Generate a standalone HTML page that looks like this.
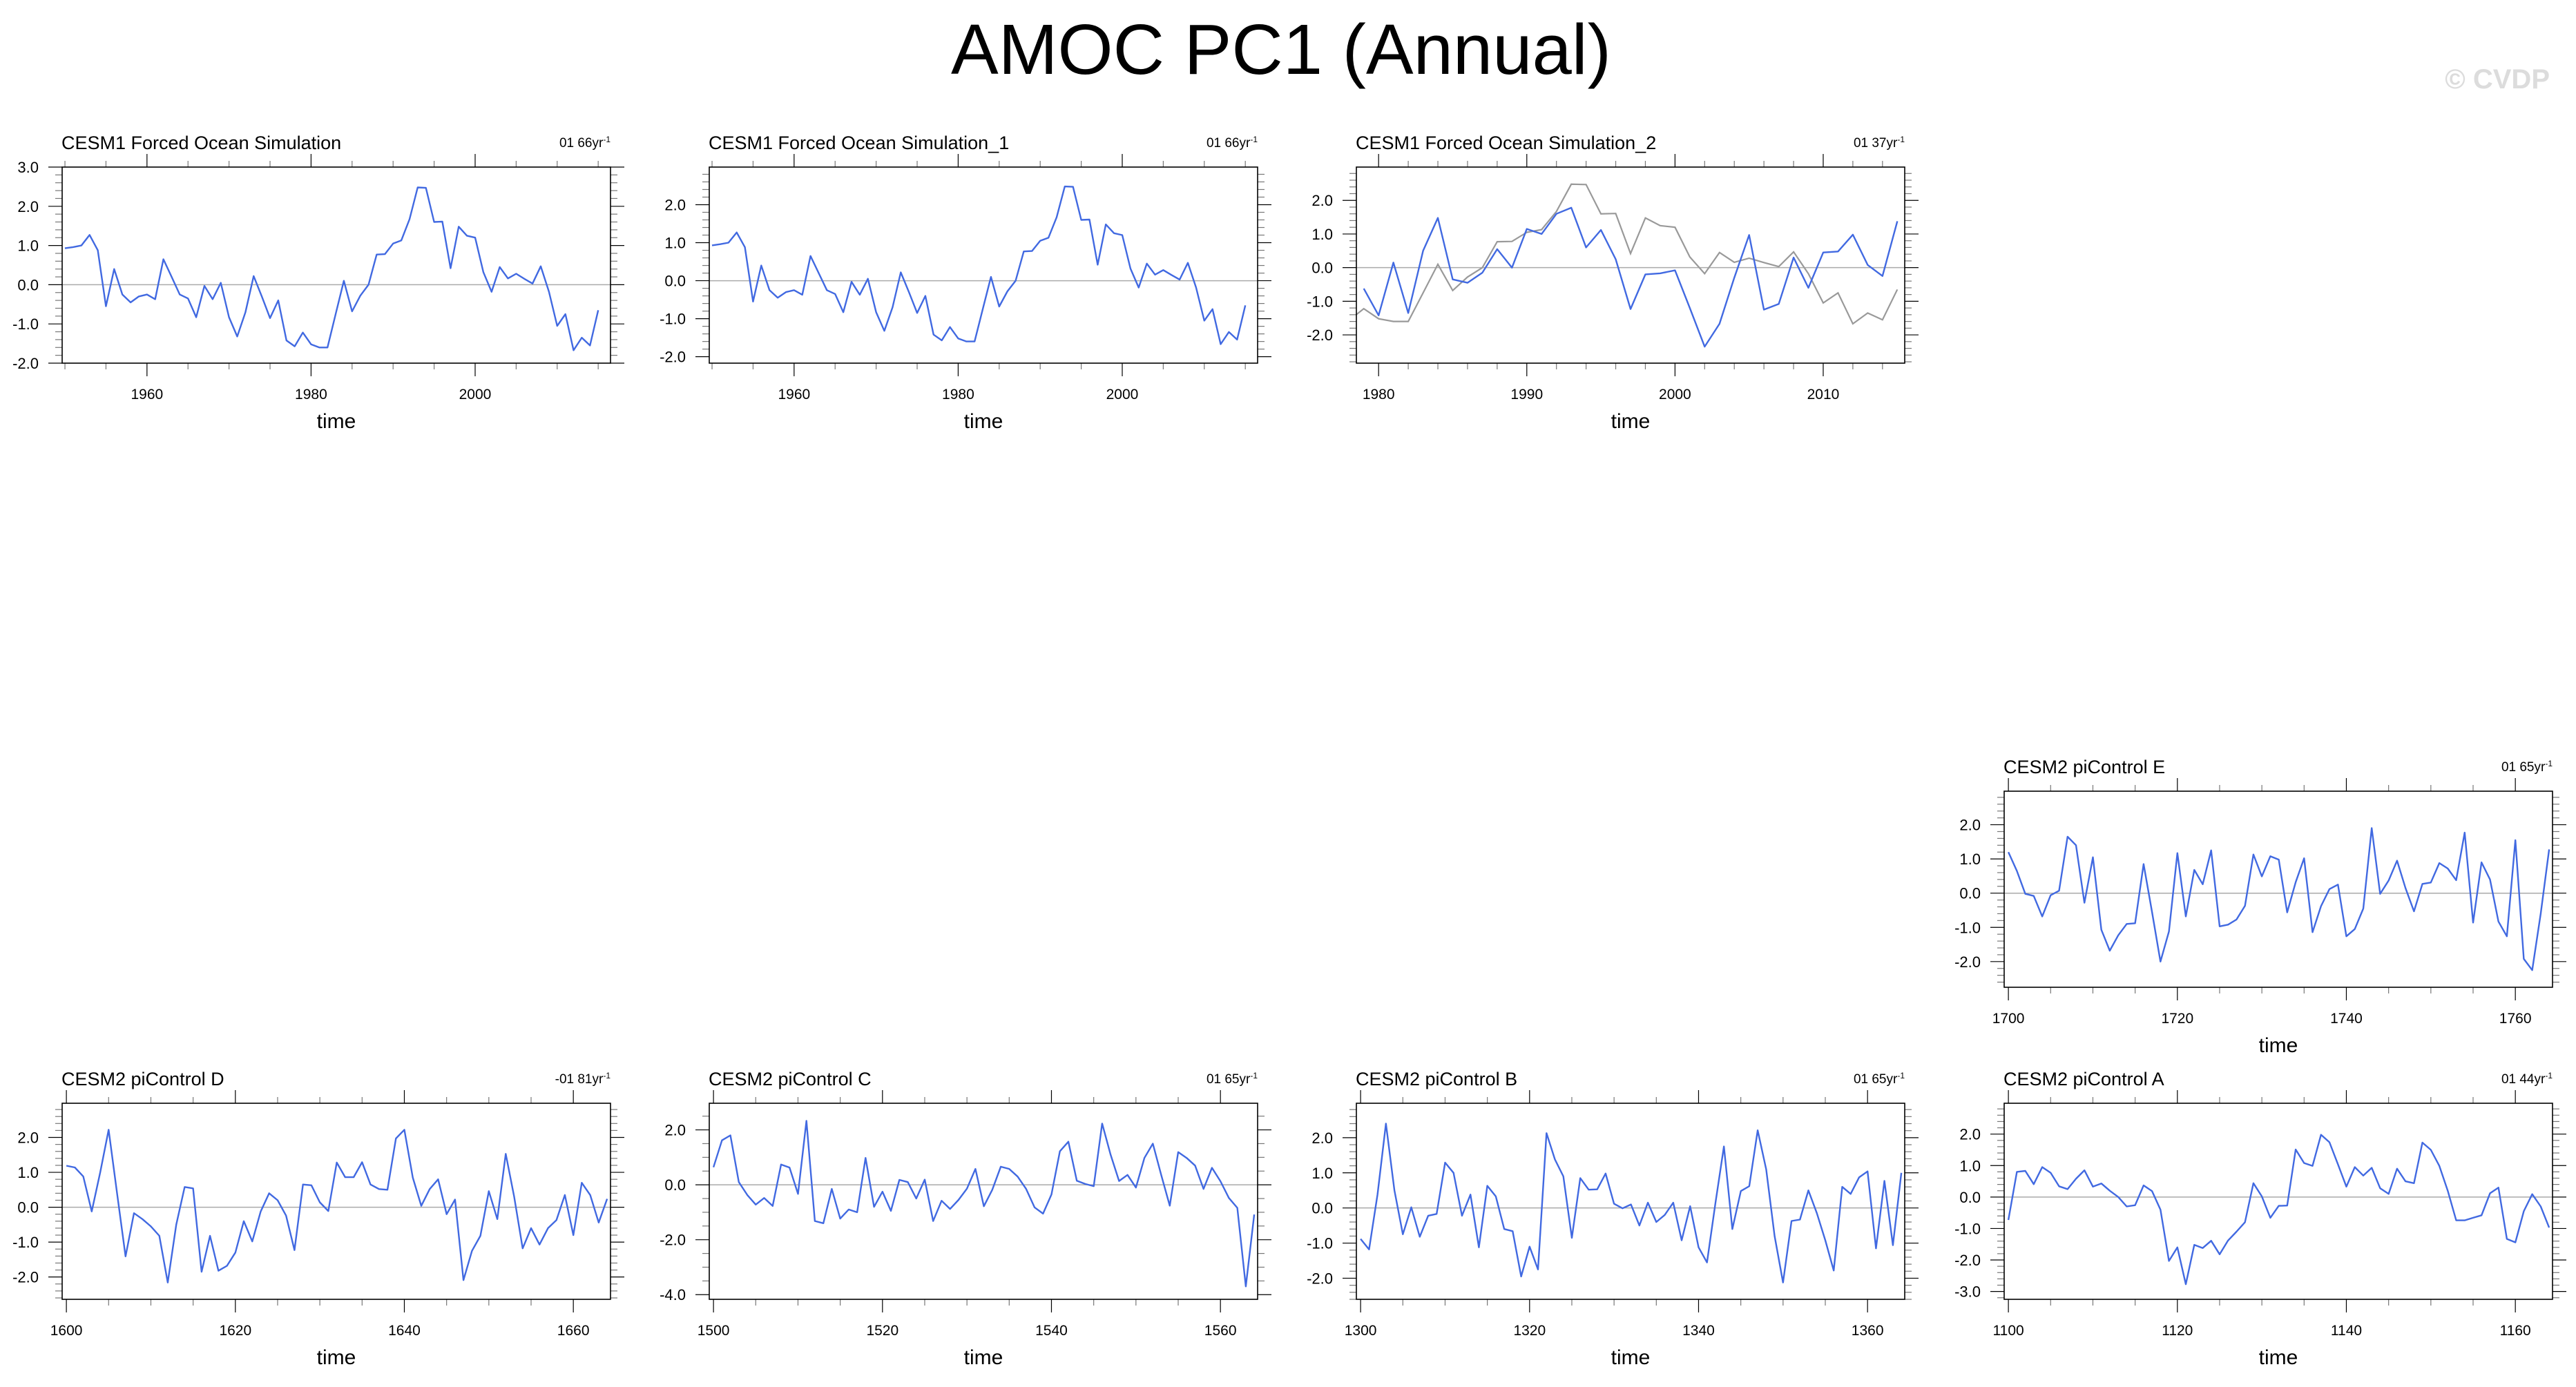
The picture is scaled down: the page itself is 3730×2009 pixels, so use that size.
<!DOCTYPE html>
<html><head><meta charset="utf-8">
<style>
html,body{margin:0;padding:0;background:#fff;}
svg{display:block;font-family:"Liberation Sans",Arial,sans-serif;}
</style></head>
<body>
<svg id="chart" width="3730" height="2009" viewBox="0 0 3730 2009" xmlns="http://www.w3.org/2000/svg">
<rect x="0" y="0" width="3730" height="2009" fill="#fff"/>
<text x="1855" y="107" font-size="103" text-anchor="middle" fill="#000">AMOC PC1 (Annual)</text>
<text x="3692" y="128" font-size="40" font-weight="bold" text-anchor="end" fill="#dcdcdc">© CVDP</text>
<g id="panels"></g>
</svg>
<script>
// ---- data ----
const forcedYears0 = 1950;
const forcedValues = [0.93,0.96,1.0,1.27,0.88,-0.55,0.4,-0.25,-0.45,-0.3,-0.25,-0.37,0.65,0.2,-0.25,-0.35,-0.83,-0.03,-0.37,0.05,-0.83,-1.32,-0.7,0.22,-0.3,-0.85,-0.4,-1.42,-1.57,-1.22,-1.52,-1.6,-1.6,-0.75,0.1,-0.68,-0.28,0.0,0.77,0.78,1.05,1.13,1.67,2.48,2.47,1.6,1.61,0.42,1.48,1.25,1.2,0.32,-0.18,0.45,0.16,0.28,0.15,0.03,0.47,-0.18,-1.05,-0.75,-1.67,-1.35,-1.55,-0.65];
const forced1Values = [0.93,0.96,1.0,1.27,0.88,-0.55,0.4,-0.25,-0.45,-0.3,-0.25,-0.37,0.65,0.2,-0.25,-0.35,-0.83,-0.03,-0.37,0.05,-0.83,-1.32,-0.7,0.22,-0.3,-0.85,-0.4,-1.42,-1.57,-1.22,-1.52,-1.6,-1.6,-0.75,0.1,-0.68,-0.28,0.0,0.77,0.78,1.05,1.13,1.67,2.48,2.47,1.6,1.61,0.42,1.48,1.25,1.2,0.32,-0.18,0.45,0.16,0.28,0.15,0.03,0.47,-0.18,-1.05,-0.75,-1.67,-1.35,-1.55,-0.65];
const forced2Years0 = 1979;
const forced2Values = [-0.62,-1.42,0.15,-1.35,0.5,1.48,-0.35,-0.45,-0.15,0.55,0.0,1.15,1.0,1.6,1.78,0.6,1.12,0.25,-1.23,-0.2,-0.17,-0.08,-1.2,-2.35,-1.67,-0.3,0.97,-1.25,-1.08,0.3,-0.6,0.45,0.48,0.98,0.08,-0.25,1.38];
const ctrlEValues = [1.2,0.65,-0.02,-0.08,-0.68,-0.06,0.07,1.65,1.4,-0.28,1.05,-1.07,-1.68,-1.23,-0.9,-0.88,0.85,-0.55,-2.0,-1.12,1.17,-0.68,0.68,0.26,1.25,-0.97,-0.92,-0.77,-0.37,1.13,0.49,1.08,0.98,-0.56,0.32,1.02,-1.14,-0.38,0.12,0.25,-1.26,-1.05,-0.45,1.9,-0.02,0.37,0.95,0.15,-0.53,0.27,0.31,0.88,0.72,0.38,1.77,-0.86,0.9,0.4,-0.83,-1.26,1.55,-1.92,-2.25,-0.6,1.28];
const ctrlDValues = [1.19,1.14,0.88,-0.12,1.0,2.22,0.4,-1.41,-0.17,-0.34,-0.55,-0.82,-2.16,-0.5,0.58,0.54,-1.85,-0.82,-1.82,-1.68,-1.3,-0.4,-0.98,-0.12,0.4,0.2,-0.24,-1.23,0.65,0.63,0.14,-0.11,1.28,0.86,0.86,1.29,0.65,0.52,0.5,1.97,2.22,0.85,0.04,0.52,0.8,-0.2,0.22,-2.09,-1.25,-0.82,0.46,-0.34,1.53,0.3,-1.18,-0.6,-1.07,-0.6,-0.37,0.35,-0.8,0.7,0.35,-0.44,0.24];
const ctrlCValues = [0.64,1.62,1.8,0.1,-0.37,-0.72,-0.48,-0.77,0.74,0.63,-0.33,2.33,-1.32,-1.4,-0.15,-1.23,-0.9,-1.0,0.98,-0.8,-0.25,-0.95,0.18,0.1,-0.5,0.19,-1.32,-0.58,-0.88,-0.55,-0.14,0.58,-0.78,-0.18,0.66,0.58,0.3,-0.15,-0.82,-1.05,-0.35,1.22,1.57,0.15,0.03,-0.05,2.23,1.1,0.14,0.36,-0.1,0.98,1.5,0.35,-0.76,1.19,0.98,0.7,-0.15,0.62,0.13,-0.48,-0.84,-3.7,-1.08];
const ctrlBValues = [-0.88,-1.18,0.38,2.4,0.5,-0.75,0.02,-0.82,-0.22,-0.17,1.29,1.0,-0.22,0.38,-1.12,0.63,0.33,-0.6,-0.66,-1.95,-1.1,-1.75,2.13,1.38,0.9,-0.85,0.85,0.52,0.53,0.98,0.12,-0.01,0.1,-0.5,0.15,-0.4,-0.2,0.15,-0.92,0.05,-1.12,-1.55,0.15,1.75,-0.6,0.48,0.62,2.21,1.1,-0.8,-2.12,-0.37,-0.33,0.5,-0.15,-0.92,-1.78,0.6,0.4,0.87,1.04,-1.15,0.77,-1.06,1.0];
const ctrlAValues = [-0.73,0.8,0.83,0.41,0.95,0.77,0.34,0.25,0.58,0.85,0.33,0.43,0.2,0.0,-0.3,-0.26,0.37,0.19,-0.4,-2.03,-1.6,-2.77,-1.52,-1.62,-1.39,-1.82,-1.38,-1.1,-0.8,0.44,0.02,-0.66,-0.28,-0.27,1.51,1.08,0.99,1.98,1.74,1.04,0.33,0.95,0.68,0.93,0.28,0.1,0.9,0.5,0.44,1.73,1.5,0.99,0.2,-0.74,-0.74,-0.66,-0.58,0.12,0.3,-1.33,-1.44,-0.45,0.09,-0.3,-0.97];
const ytick5 = [3.0,2.0,1.0,0.0,-1.0,-2.0];
const ytick4 = [2.0,1.0,0.0,-1.0,-2.0];
const ytickC = [2.0,0.0,-2.0,-4.0];
const ytickA = [2.0,1.0,0.0,-1.0,-2.0,-3.0];
const xtickForced = [1960,1980,2000];
const xtickForced2 = [1980,1990,2000,2010];
const xtickE = [1700,1720,1740,1760];
const xtickD = [1600,1620,1640,1660];
const xtickC = [1500,1520,1540,1560];
const xtickB = [1300,1320,1340,1360];
const xtickA = [1100,1120,1140,1160];

const NS = "http://www.w3.org/2000/svg";
const root = document.getElementById('panels');
function mk(tag, attrs, parent){ const e=document.createElementNS(NS,tag); for(const k in attrs) e.setAttribute(k,attrs[k]); (parent||root).appendChild(e); return e; }

const W = 794, H = 284;
const cols = [90, 1027, 1964, 2902];
const panels = [
 {id:'forced', title:'CESM1 Forced Ocean Simulation', rate:'01 66yr', col:0, top:242, x0:1949.66, x1:2016.5, y0:-2.0, y1:3.0, start:forcedYears0, vals:forcedValues, xt:xtickForced, xmin:5, yt:ytick5, ymin:0.2},
 {id:'forced-1', title:'CESM1 Forced Ocean Simulation_1', rate:'01 66yr', col:1, top:242, x0:1949.66, x1:2016.5, y0:-2.17, y1:2.99, start:forcedYears0, vals:forced1Values, xt:xtickForced, xmin:5, yt:ytick4, ymin:0.2},
 {id:'forced-2', title:'CESM1 Forced Ocean Simulation_2', rate:'01 37yr', col:2, top:242, x0:1978.5, x1:2015.5, y0:-2.84, y1:2.99, start:forced2Years0, vals:forced2Values, ref:{start:forcedYears0, vals:forcedValues}, xt:xtickForced2, xmin:2, yt:ytick4, ymin:0.2},
 {id:'picontrol-e', title:'CESM2 piControl E', rate:'01 65yr', col:3, top:1146, x0:1699.5, x1:1764.4, y0:-2.75, y1:2.98, start:1700, vals:ctrlEValues, xt:xtickE, xmin:5, yt:ytick4, ymin:0.2},
 {id:'picontrol-d', title:'CESM2 piControl D', rate:'-01 81yr', col:0, top:1598, x0:1599.5, x1:1664.4, y0:-2.64, y1:2.98, start:1600, vals:ctrlDValues, xt:xtickD, xmin:5, yt:ytick4, ymin:0.2},
 {id:'picontrol-c', title:'CESM2 piControl C', rate:'01 65yr', col:1, top:1598, x0:1499.5, x1:1564.4, y0:-4.17, y1:2.97, start:1500, vals:ctrlCValues, xt:xtickC, xmin:5, yt:ytickC, ymin:0.5},
 {id:'picontrol-b', title:'CESM2 piControl B', rate:'01 65yr', col:2, top:1598, x0:1299.5, x1:1364.4, y0:-2.6, y1:2.98, start:1300, vals:ctrlBValues, xt:xtickB, xmin:5, yt:ytick4, ymin:0.2},
 {id:'picontrol-a', title:'CESM2 piControl A', rate:'01 44yr', col:3, top:1598, x0:1099.5, x1:1164.4, y0:-3.25, y1:2.98, start:1100, vals:ctrlAValues, xt:xtickA, xmin:5, yt:ytickA, ymin:0.2}
];

panels.forEach(p=>{
  const L = cols[p.col], T = p.top, R = L+W, B = T+H;
  const sx = v => L + (v-p.x0)/(p.x1-p.x0)*W;
  const sy = v => B - (v-p.y0)/(p.y1-p.y0)*H;
  const g = mk('g',{});
  
  
  const t = mk('text',{x:L-1,y:T-26,'font-size':27,fill:'#000'},g);
  t.textContent = p.title;
  
  
  const r = mk('text',{x:R,y:T-29,'font-size':19,'text-anchor':'end',fill:'#000'},g);
  r.textContent = p.rate;
  const sup = mk('tspan',{dy:-7,'font-size':12},r);
  sup.textContent = '-1';
  
  
  // x ticks
  const xs = Math.ceil(p.x0/p.xmin)*p.xmin;
  for(let v=xs; v<=p.x1; v+=p.xmin){
    const major = p.xt.indexOf(v)>=0;
    const len = major?19:9, x=sx(v);
    mk('line',{x1:x,y1:B,x2:x,y2:B+len,stroke:major?'#000':'#777','stroke-width':1.2},g);
    mk('line',{x1:x,y1:T,x2:x,y2:T-len,stroke:major?'#000':'#777','stroke-width':1.2},g);
  }
  p.xt.forEach(v=>{
    const lb = mk('text',{x:sx(v),y:B+52,'font-size':21,'text-anchor':'middle',fill:'#000'},g);
    lb.textContent = v;
    
    
  });
  // y ticks
  const n0 = Math.ceil(p.y0/p.ymin-1e-6), n1 = Math.floor(p.y1/p.ymin+1e-6);
  for(let n=n0;n<=n1;n++){
    const v = n*p.ymin;
    const major = p.yt.some(q=>Math.abs(q-v)<1e-6);
    const len = major?20:10, y=sy(v);
    mk('line',{x1:L,y1:y,x2:L-len,y2:y,stroke:major?'#000':'#777','stroke-width':1.2},g);
    mk('line',{x1:R,y1:y,x2:R+len,y2:y,stroke:major?'#000':'#777','stroke-width':1.2},g);
  }
  p.yt.forEach(v=>{
    const lb = mk('text',{x:L-34,y:sy(v)+8,'font-size':22,'text-anchor':'end',fill:'#000'},g);
    lb.textContent = v.toFixed(1);
    
    
  });
  // zero line
  const z = mk('line',{x1:L,y1:sy(0),x2:R,y2:sy(0),stroke:'#aaa','stroke-width':1.5},g);
  
  
  const clipId = 'clip-'+p.id;
  const cp = mk('clipPath',{id:clipId},g);
  mk('rect',{x:L,y:T,width:W,height:H},cp);
  if(p.ref){
    const pts = p.ref.vals.map((v,i)=>sx(p.ref.start+i).toFixed(1)+','+sy(v).toFixed(1)).join(' ');
    const pl = mk('polyline',{points:pts,fill:'none',stroke:'#999','stroke-width':2.2,'clip-path':'url(#'+clipId+')'},g);
    
    
  }
  const pts = p.vals.map((v,i)=>sx(p.start+i).toFixed(1)+','+sy(v).toFixed(1)).join(' ');
  const pl = mk('polyline',{points:pts,fill:'none',stroke:'#4169e1','stroke-width':2.4,'stroke-linejoin':'round','clip-path':'url(#'+clipId+')'},g);
  
  
  const box = mk('rect',{x:L,y:T,width:W,height:H,fill:'none',stroke:'#000','stroke-width':1.6},g);
  
  
  const xl = mk('text',{x:L+W/2,y:B+94,'font-size':30,'text-anchor':'middle',fill:'#000'},g);
  xl.textContent = 'time';
  
  
});
</script>
</body></html>
